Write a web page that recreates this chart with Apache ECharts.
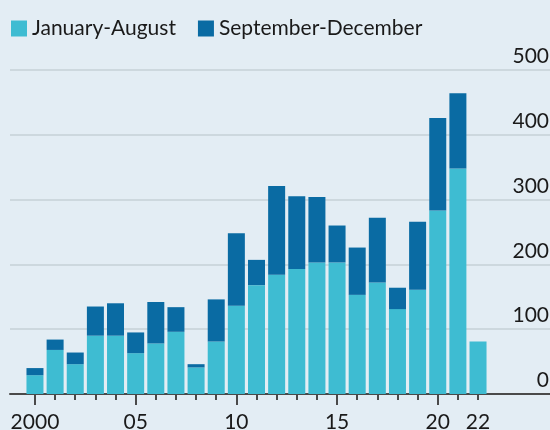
<!DOCTYPE html>
<html>
<head>
<meta charset="utf-8">
<script src="https://cdn.jsdelivr.net/npm/echarts@6/dist/echarts.min.js"></script>
<style>
  html, body { margin: 0; padding: 0; background: #e3edf4; }
  #chart { width: 550px; height: 430px; }
</style>
</head>
<body>
<div id="chart"></div>
<script>
// yearly values
var years = ['2000', '2001', '2002', '2003', '2004', '2005', '2006', '2007', '2008', '2009', '2010', '2011',
             '2012', '2013', '2014', '2015', '2016', '2017', '2018', '2019', '2020', '2021', '2022'];
var janAug = [29, 68, 46, 90, 90, 63, 78, 96, 41, 81, 136, 168,
              184, 193, 203, 203, 153, 172, 131, 161, 283, 348, 81];
var sepDec = [11, 16, 18, 45, 50, 32, 64, 38, 5, 65, 112, 39,
              137, 112, 101, 57, 73, 100, 33, 105, 143, 116, 0];
var labelYears = ['2000', '2005', '2010', '2015', '2020', '2022'];
var majorTicks = ['2000', '2005', '2010', '2015', '2020'];

var font = 'Lato';
var textColor = '#1a1a1a';
var axisColor = '#4a4a4a';

var chart = echarts.init(document.getElementById('chart'));
chart.setOption({
    backgroundColor: '#e3edf4',
    animation: false,
    textStyle: { fontFamily: font },
    legend: {
        left: 6,
        top: 13,
        icon: 'rect',
        itemWidth: 16,
        itemHeight: 16,
        itemGap: 22,
        textStyle: { fontFamily: font, fontSize: 21, color: textColor },
        data: ['January-August', 'September-December']
    },
    grid: [
        // full-width grid: gridlines, y labels, baseline
        { left: 10, right: 0, top: 70, bottom: 36, outerBoundsMode: 'none' },
        // bars
        { left: 24.9, right: 61.9, top: 70, bottom: 36, outerBoundsMode: 'none' }
    ],
    xAxis: [{
        gridIndex: 0,
        type: 'value',
        min: 0, max: 1,
        splitLine: { show: false },
        axisLine: { show: true, lineStyle: { color: axisColor, width: 2 } },
        axisTick: { show: false },
        axisLabel: { show: false }
    }, {
        gridIndex: 1,
        type: 'category',
        data: years,
        axisLine: { show: false },
        axisTick: {
            show: true, length: 6, alignWithLabel: true, interval: 0,
            lineStyle: { color: axisColor, width: 2 }
        },
        axisLabel: {
            interval: function (i, v) { return labelYears.indexOf(v) >= 0; },
            margin: 18,
            fontFamily: font, fontSize: 21, color: textColor,
            formatter: function (v) { return v === '2000' ? '2000' : v.slice(2); }
        }
    }, {
        gridIndex: 1,
        type: 'category',
        data: years,
        position: 'bottom',
        axisLine: { show: false },
        axisTick: {
            show: true, length: 11, alignWithLabel: true,
            interval: function (i, v) { return majorTicks.indexOf(v) >= 0; },
            lineStyle: { color: axisColor, width: 2 }
        },
        axisLabel: { show: false }
    }],
    yAxis: [{
        gridIndex: 0,
        type: 'value',
        position: 'right',
        min: 0,
        max: 500,
        interval: 100,
        axisLine: { show: false },
        axisTick: { show: false },
        splitLine: { lineStyle: { color: '#c6d0d7', width: 1.5 } },
        axisLabel: {
            inside: true,
            margin: 1,
            verticalAlign: 'bottom',
            padding: [0, 0, 3, 0],
            fontFamily: font, fontSize: 21, color: textColor
        }
    }, {
        gridIndex: 1,
        type: 'value',
        min: 0,
        max: 500,
        show: false
    }],
    series: [{
        name: 'January-August',
        type: 'bar',
        stack: 'total',
        xAxisIndex: 1,
        yAxisIndex: 1,
        barWidth: 17,
        itemStyle: { color: '#3ebcd2' },
        data: janAug
    }, {
        name: 'September-December',
        type: 'bar',
        stack: 'total',
        xAxisIndex: 1,
        yAxisIndex: 1,
        barWidth: 17,
        itemStyle: { color: '#0a6ba3' },
        data: sepDec
    }]
});
</script>
</body>
</html>
